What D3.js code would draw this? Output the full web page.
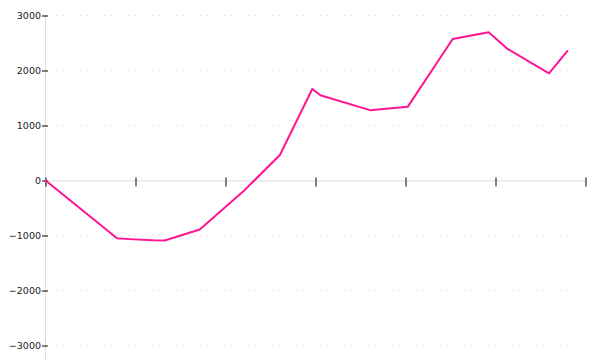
<!DOCTYPE html>
<html>
<head>
<meta charset="utf-8">
<script src="https://cdn.jsdelivr.net/npm/d3@7"></script>
<style>
  body { margin: 0; background: #fff; }
  .axis text { font-family: "DejaVu Sans", sans-serif; font-size: 9.5px; fill: #222; }
</style>
</head>
<body>
<div id="chart"></div>
<script>
// x positions in tick units (7 unlabelled ticks, 0..6)
const xValues = [0, 0.8, 0.94, 1.2, 1.33, 1.72, 2.22, 2.61, 2.97, 3.06, 3.61, 4.03, 4.53, 4.93, 5.13, 5.6, 5.81];
const yValues = [0, -1060, -1075, -1095, -1100, -900, -180, 455, 1655, 1540, 1270, 1330, 2564, 2685, 2394, 1940, 2358];
const xTicks = [0, 1, 2, 3, 4, 5, 6];
const yTicks = [-3000, -2000, -1000, 0, 1000, 2000, 3000];

const W = 600, H = 360;

const svg = d3.select("#chart").append("svg")
  .attr("width", W)
  .attr("height", H);

const x = d3.scaleLinear().domain([0, 6]).range([45, 585]);
const y = d3.scaleLinear().domain([-3000, 3000]).range([345, 15]);

// dotted gridlines
svg.append("g")
  .selectAll("line")
  .data(yTicks.filter(d => d !== 0))
  .join("line")
  .attr("x1", 50)
  .attr("x2", 585)
  .attr("y1", d => Math.round(y(d)) + 0.5)
  .attr("y2", d => Math.round(y(d)) + 0.5)
  .attr("stroke", "#ececec")
  .attr("stroke-dasharray", "2,4");

// vertical axis line
svg.append("line")
  .attr("x1", 45.5).attr("x2", 45.5)
  .attr("y1", 15).attr("y2", H)
  .attr("stroke", "#dcdcdc");

// x axis at zero
const xAxis = svg.append("g")
  .attr("class", "axis")
  .attr("transform", `translate(0.5,${Math.round(y(0)) + 0.5})`)
  .call(d3.axisBottom(x).tickValues(xTicks).tickFormat("").tickSizeOuter(0));
xAxis.select(".domain").attr("stroke", "#dcdcdc");
xAxis.selectAll(".tick line")
  .attr("y1", -3)
  .attr("y2", 6)
  .attr("stroke", "#000");

// y axis labels and ticks
const yAxis = svg.append("g")
  .attr("class", "axis")
  .attr("transform", "translate(45,0.5)")
  .call(d3.axisLeft(y).tickValues(yTicks).tickFormat(d3.format("d")).tickSizeOuter(0));
yAxis.select(".domain").remove();
yAxis.selectAll(".tick line")
  .attr("x1", -3)
  .attr("x2", 3)
  .attr("stroke", "#000");
yAxis.selectAll(".tick text").attr("x", -4);

// series line
const data = xValues.map((v, i) => ({ x: v, y: yValues[i] }));
svg.append("path")
  .datum(data)
  .attr("fill", "none")
  .attr("stroke", "#ff1493")
  .attr("stroke-width", 2)
  .attr("stroke-linejoin", "round")
  .attr("d", d3.line().x(d => x(d.x)).y(d => y(d.y)));
</script>
</body>
</html>
